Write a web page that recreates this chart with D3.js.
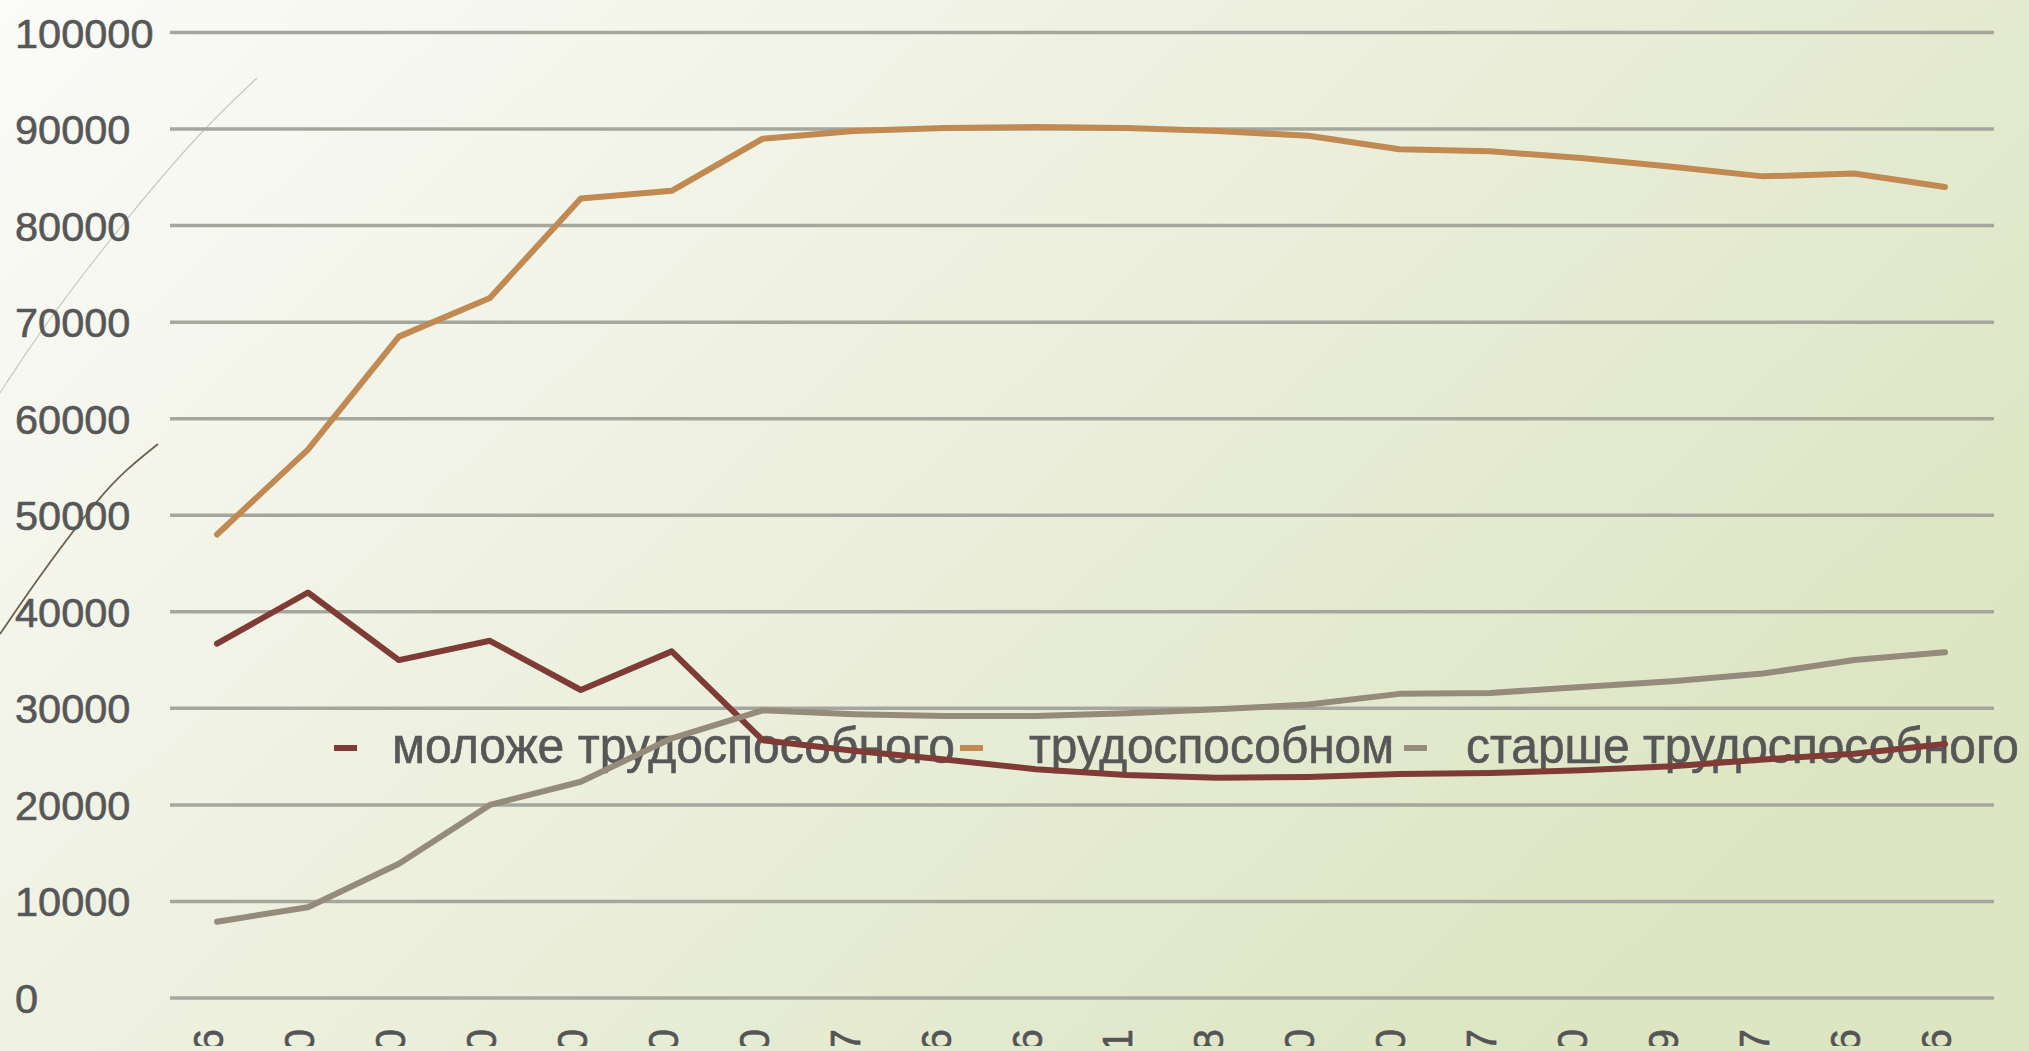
<!DOCTYPE html>
<html>
<head>
<meta charset="utf-8">
<script src="https://cdn.jsdelivr.net/npm/d3@7"></script>
<style>
  html, body { margin: 0; padding: 0; overflow: hidden; }
  svg { display: block; font-family: "Liberation Sans", Arial, sans-serif; }
</style>
</head>
<body>
<svg id="chart"></svg>
<script>
// chart data
const years = ['1926', '1930', '1940', '1950', '1960', '1970', '1980', '1987', '1996', '2006',
  '2011', '2008', '2010', '2000', '2007', '2010', '2009', '2007', '2016', '2016'];
const younger = [36700, 42000, 35000, 37000, 31900, 35900, 26700, 25600, 24700, 23700,
  23100, 22800, 22900, 23200, 23300, 23600, 24000, 24700, 25300, 26300];
const working = [48000, 56800, 68500, 72500, 82800, 83600, 89000, 89800, 90100, 90200,
  90100, 89800, 89300, 87900, 87700, 87000, 86100, 85100, 85400, 84000];
const older = [7900, 9400, 13900, 20000, 22400, 26900, 29800, 29400, 29200, 29200,
  29500, 29900, 30400, 31500, 31600, 32200, 32800, 33600, 35000, 35800];
const seriesNames = ['моложе трудоспособного', 'трудоспособном', 'старше трудоспособного'];
const seriesColors = ['#7f3b36', '#c08a52', '#958b7b'];
const yTicks = [0, 10000, 20000, 30000, 40000, 50000, 60000, 70000, 80000, 90000, 100000];

const W = 2029, H = 1051;
const svg = d3.select('#chart').attr('width', W).attr('height', H);

// background gradient
const defs = svg.append('defs');
const bg = defs.append('linearGradient').attr('id', 'bg')
  .attr('x1', '0%').attr('y1', '0%').attr('x2', '100%').attr('y2', '55%');
bg.append('stop').attr('offset', '0%').attr('stop-color', '#fbfbf8');
bg.append('stop').attr('offset', '45%').attr('stop-color', '#eef1e1');
bg.append('stop').attr('offset', '100%').attr('stop-color', '#dde5c3');
svg.append('rect').attr('width', W).attr('height', H).attr('fill', 'url(#bg)');

// the category labels are cut by the lower edge of the original picture
defs.append('clipPath').attr('id', 'cut')
  .append('rect').attr('x', 0).attr('y', 0).attr('width', W).attr('height', 1046);

// decorative theme curves on the left
const deco = d3.line().curve(d3.curveBasis);
svg.append('path')
  .attr('d', deco([[257, 78], [203, 129], [133, 210], [43, 326], [0, 393]]))
  .attr('fill', 'none').attr('stroke', '#c9c9bd').attr('stroke-width', 1.2);
svg.append('path')
  .attr('d', deco([[158, 444], [128, 468], [100, 496], [45, 568], [0, 634]]))
  .attr('fill', 'none').attr('stroke', '#6b6350').attr('stroke-width', 1.8);

const x = d3.scalePoint().domain(d3.range(years.length)).range([217, 1945]);
const y = d3.scaleLinear().domain([0, 100000]).range([998, 32.5]);

// gridlines
svg.append('g').selectAll('line').data(yTicks).join('line')
  .attr('x1', 170).attr('x2', 1994)
  .attr('y1', d => y(d)).attr('y2', d => y(d))
  .attr('stroke', '#a5a79c').attr('stroke-width', 3.5);

// y labels (left aligned)
svg.append('g').selectAll('text').data(yTicks).join('text')
  .attr('x', 15).attr('y', d => y(d) + 15)
  .attr('font-size', 41.5).attr('fill', '#575757')
  .attr('stroke', '#575757').attr('stroke-width', 0.6)
  .text(d => d);

// x labels, rotated and cut by the bottom edge
svg.append('g').attr('clip-path', 'url(#cut)')
  .selectAll('text').data(years).join('text')
  .attr('transform', (d, i) => `translate(${x(i) + 6},1029) rotate(-90)`)
  .attr('text-anchor', 'end')
  .attr('font-size', 42).attr('fill', '#555')
  .attr('stroke', '#555').attr('stroke-width', 0.6)
  .text(d => d);

// legend (drawn beneath the lines)
const legendItems = [
  { mx: 334, tx: 392, tw: 563 },
  { mx: 960, tx: 1029, tw: 365 },
  { mx: 1404, tx: 1466, tw: 553 }
];
const lg = svg.append('g');
legendItems.forEach((it, i) => {
  lg.append('line')
    .attr('x1', it.mx).attr('x2', it.mx + 23)
    .attr('y1', 748).attr('y2', 748)
    .attr('stroke', seriesColors[i]).attr('stroke-width', 6);
  lg.append('text')
    .attr('x', it.tx).attr('y', 763)
    .attr('font-size', 50).attr('fill', '#575757')
    .attr('stroke', '#575757').attr('stroke-width', 0.6)
    .attr('textLength', it.tw).attr('lengthAdjust', 'spacingAndGlyphs')
    .text(seriesNames[i]);
});

// series lines
const line = d3.line()
  .x((d, i) => x(i))
  .y(d => y(d));
[younger, working, older].forEach((s, i) => {
  svg.append('path')
    .datum(s)
    .attr('fill', 'none')
    .attr('stroke', seriesColors[i])
    .attr('stroke-width', 6)
    .attr('stroke-linejoin', 'round')
    .attr('stroke-linecap', 'round')
    .attr('d', line);
});
</script>
</body>
</html>
